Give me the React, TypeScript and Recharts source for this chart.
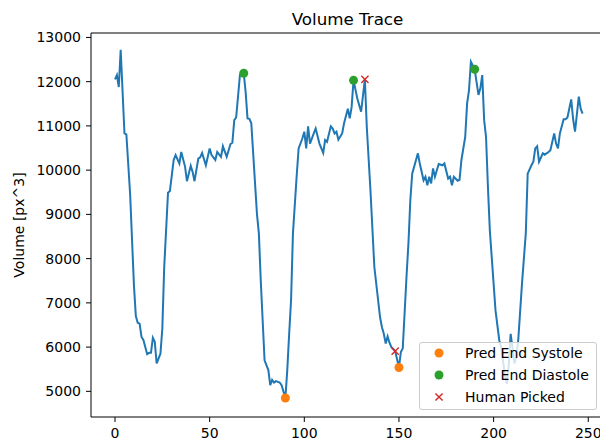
import React from 'react';
import { ComposedChart, Line, Scatter, XAxis, YAxis, Legend, ReferenceLine } from 'recharts';

const traceFrames = [
  0, 1, 2, 3, 5, 6, 8, 10, 11, 12, 13, 14, 15, 17, 18, 19, 20, 21, 22, 24, 25, 26, 28, 29, 31, 32, 34, 35, 37, 38,
  40, 41, 42, 44, 45, 46, 48, 50, 51, 53, 54, 56, 57, 59, 61, 62, 63, 64, 66, 68, 69, 70, 71, 72, 75, 76, 77, 79,
  81, 82, 83, 84, 85, 87, 88, 90, 91, 92, 93, 94, 96, 97, 99, 100, 101, 102, 103, 105, 106, 108, 110, 111, 112,
  114, 115, 116, 117, 118, 120, 121, 123, 124, 125, 126, 128, 130, 132, 133, 135, 137, 140, 141, 142, 143, 144,
  145, 146, 148, 150, 151, 152, 154, 155, 156, 157, 160, 161, 163, 164, 165, 166, 167, 168, 169, 171, 173, 174,
  176, 177, 178, 179, 181, 182, 183, 185, 186, 187, 188, 190, 191, 192, 193, 194, 195, 196, 197, 198, 201, 203,
  204, 206, 207, 208, 209, 210, 211, 212, 213, 215, 217, 218, 220, 221, 222, 223, 224, 226, 227, 229, 230, 232,
  233, 234, 235, 237, 238, 239, 241, 242, 243, 245, 246, 247,
];

const traceVolumes = [
  12050, 12150, 11880, 12720, 10830, 10810, 9450, 7400, 6700, 6550, 6530, 6230, 6160, 5840, 5870, 5870, 6210, 6120,
  5630, 5850, 6420, 7810, 9490, 9530, 10230, 10340, 10150, 10410, 10080, 9750,
  10100, 9960, 9750, 10260, 10290, 10390, 10110, 10490, 10340, 10230, 10410, 10300, 10540, 10300, 10590, 10620,
  11130, 11190, 12150, 12190, 11770, 11170, 11160, 11060, 9000, 8570, 7500, 5700,
  5480, 5140, 5260, 5200, 5230, 5200, 5140, 4850, 5480, 6300, 7060, 8570, 9890, 10490, 10720, 10870, 10490, 10990,
  10600, 10830, 10940, 10600, 10390, 10680, 10640,
  10990, 10940, 10830, 10870, 10690, 10830, 11060, 11390, 11170, 11430, 12030, 11620, 11320, 12050, 10980, 9500,
  7810, 6680, 6450, 6300, 6080, 6240,
  6100, 6000, 5910, 5540, 5890, 5970, 7600, 8340, 9320, 9920, 10380, 10150, 9770, 9850, 9660, 9850, 9700, 10040,
  9850, 10140, 10110, 10150,
  9810, 9850, 9660, 9850, 9760, 9780, 10230, 10750, 11510, 11810, 12450, 12280, 11990, 11700, 11850, 12150, 11130,
  10750, 9620, 8640, 6830, 6150,
  6000, 5360, 5170, 5600, 6300, 5970, 5630, 5790, 6150, 7440, 8570, 9920, 10110, 10190, 10490, 10540, 10190, 10380,
  10350, 10410, 10450, 10830,
  10600, 10490, 10830, 11150, 11150, 11190, 11600, 11150, 10870, 11660, 11390, 11280,
];

const systoleFrames = [90, 150];
const systoleVolumes = [4850, 5540];
const diastoleFrames = [68, 126, 190];
const diastoleVolumes = [12190, 12030, 12280];
const humanFrames = [132, 148];
const humanVolumes = [12050, 5910];

const xTicks = [0, 50, 100, 150, 200, 250];
const yTicks = [5000, 6000, 7000, 8000, 9000, 10000, 11000, 12000, 13000];

const legendLabels = ['Pred End Systole', 'Pred End Diastole', 'Human Picked'];

const BLUE = '#1f77b4';
const ORANGE = '#ff7f0e';
const GREEN = '#2ca02c';
const RED = '#d62728';

const zip = (xs: number[], ys: number[]) => xs.map((x, i) => ({ x, y: ys[i] }));

const traceData = zip(traceFrames, traceVolumes);
const systoleData = zip(systoleFrames, systoleVolumes);
const diastoleData = zip(diastoleFrames, diastoleVolumes);
const humanData = zip(humanFrames, humanVolumes);

const FONT = '"DejaVu Sans", Verdana, sans-serif';

const Dot = (color: string) => (props: any) => {
  const { cx, cy } = props;
  if (cx == null || cy == null) return null;
  return <circle cx={cx} cy={cy} r={4.5} fill={color} />;
};

const Cross = (props: any) => {
  const { cx, cy } = props;
  if (cx == null || cy == null) return null;
  const s = 3.6;
  return (
    <g stroke={RED} strokeWidth={1.4}>
      <line x1={cx - s} y1={cy - s} x2={cx + s} y2={cy + s} />
      <line x1={cx - s} y1={cy + s} x2={cx + s} y2={cy - s} />
    </g>
  );
};

const markerFor = (i: number) => {
  if (i === 0) return <circle cx={10} cy={11} r={4.5} fill={ORANGE} />;
  if (i === 1) return <circle cx={10} cy={11} r={4.5} fill={GREEN} />;
  return (
    <g stroke={RED} strokeWidth={1.4}>
      <line x1={6.4} y1={7.4} x2={13.6} y2={14.6} />
      <line x1={6.4} y1={14.6} x2={13.6} y2={7.4} />
    </g>
  );
};

const LegendBox = () => (
  <div
    style={{
      position: 'relative',
      width: 178,
      height: 68,
      boxSizing: 'border-box',
      border: '1px solid #cccccc',
      borderRadius: 3,
      background: 'rgba(255,255,255,0.8)',
      fontFamily: FONT,
      fontSize: 14,
      color: '#000',
    }}
  >
    {legendLabels.map((label, i) => (
      <div key={label} style={{ position: 'absolute', left: 0, top: -0.7 + 22 * i, height: 22, width: 176 }}>
        <svg width={20} height={22} style={{ position: 'absolute', left: 9, top: 0 }}>
          {markerFor(i)}
        </svg>
        <span style={{ position: 'absolute', left: 45, top: 0, lineHeight: '22px', whiteSpace: 'nowrap' }}>{label}</span>
      </div>
    ))}
  </div>
);

const YLabel = (props: any) => {
  const vb = props.viewBox || { x: 0, y: 33, width: 91, height: 384 };
  const cx = vb.x + 18.5;
  const cy = vb.y + vb.height / 2;
  return (
    <text
      x={cx}
      y={cy}
      transform={`rotate(-90 ${cx} ${cy})`}
      textAnchor="middle"
      dominantBaseline="central"
      fontFamily={FONT}
      fontSize={14}
      fill="#000"
    >
      Volume [px^3]
    </text>
  );
};

export default function App() {
  return (
    <div style={{ position: 'absolute', left: 0, top: 0, width: 600, height: 438, overflow: 'hidden', background: '#fff' }}>
      <div
        style={{
          position: 'absolute',
          left: 91,
          width: 513,
          top: 11,
          textAlign: 'center',
          fontFamily: FONT,
          fontSize: 16.7,
          lineHeight: '16.7px',
          color: '#000',
          zIndex: 2,
        }}
      >
        Volume Trace
      </div>
      <ComposedChart
        width={600}
        height={445}
        margin={{ top: 33, right: 0, bottom: 0, left: 0 }}
        style={{ fontFamily: FONT }}
      >
        <XAxis
          dataKey="x"
          type="number"
          domain={[-12.68, 256.2]}
          allowDataOverflow
          ticks={xTicks}
          interval={0}
          height={28}
          tickSize={5}
          tickMargin={6}
          axisLine={{ stroke: '#000', strokeWidth: 1 }}
          tickLine={{ stroke: '#000', strokeWidth: 1 }}
          tick={{ fill: '#000', fontSize: 14, fontFamily: FONT }}
        />
        <YAxis
          dataKey="y"
          type="number"
          domain={[4420, 13100]}
          allowDataOverflow
          ticks={yTicks}
          interval={0}
          width={91}
          tickSize={5}
          tickMargin={5}
          axisLine={{ stroke: '#000', strokeWidth: 1 }}
          tickLine={{ stroke: '#000', strokeWidth: 1 }}
          tick={{ fill: '#000', fontSize: 14, fontFamily: FONT }}
          label={<YLabel />}
        />
        <ReferenceLine y={13100} stroke="#000" strokeWidth={1} ifOverflow="extendDomain" />
        <Line
          data={traceData}
          dataKey="y"
          type="linear"
          stroke={BLUE}
          strokeWidth={2}
          dot={false}
          activeDot={false}
          isAnimationActive={false}
          legendType="none"
        />
        <Scatter data={systoleData} dataKey="y" fill={ORANGE} shape={Dot(ORANGE)} isAnimationActive={false} />
        <Scatter data={diastoleData} dataKey="y" fill={GREEN} shape={Dot(GREEN)} isAnimationActive={false} />
        <Scatter data={humanData} dataKey="y" fill={RED} shape={Cross} isAnimationActive={false} />
        <Legend
          layout="vertical"
          align="center"
          verticalAlign="middle"
          content={() => <LegendBox />}
          wrapperStyle={{ position: 'absolute', left: 419, top: 342, width: 178, height: 68, right: 'auto', bottom: 'auto', margin: 0 }}
        />
      </ComposedChart>
    </div>
  );
}
